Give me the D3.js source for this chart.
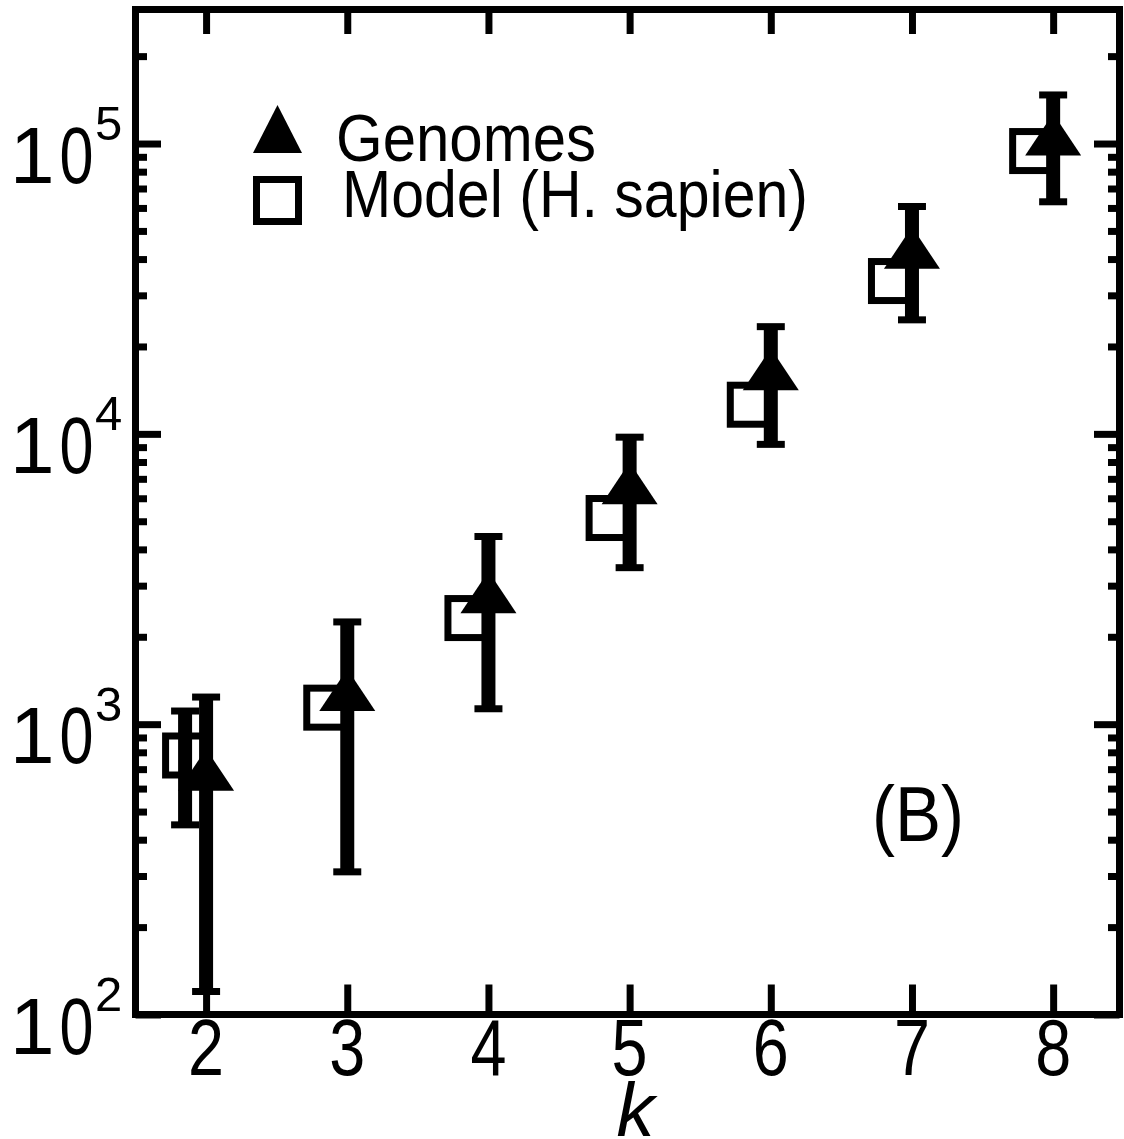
<!DOCTYPE html>
<html>
<head>
<meta charset="utf-8">
<script src="https://cdn.jsdelivr.net/npm/d3@7"></script>
<style>
  html, body { margin: 0; padding: 0; background: #fff; }
  svg { display: block; }
  text { font-family: "Liberation Sans", Arial, sans-serif; fill: #000; }
</style>
</head>
<body>
<script>
// ---- data ----
const kValues = [2, 3, 4, 5, 6, 7, 8];
const genomeValues = [680, 1280, 2780, 6600, 16300, 42700, 105000];
const genomeErrors = [560, 970, 1650, 3140, 7100, 18000, 42000];
const modelValues = [780, 1140, 2320, 5130, 12600, 33600, 94200];
const modelErrors = [330, 0, 0, 0, 0, 0, 0];
const yTickExponents = [2, 3, 4, 5];
const xTickLabels = ["2", "3", "4", "5", "6", "7", "8"];
const legendLabels = ["Genomes", "Model (H. sapien)"];
const panelLabel = "(B)";
const xAxisLabel = "k";

// ---- layout ----
const W = 1124, H = 1139;
const L = 135.5, R = 1119.5, T = 9.5, B = 1014.5;
const SW = 7;

const svg = d3.select("body").append("svg").attr("width", W).attr("height", H);

const x = d3.scaleLinear().domain([1.5, 8.47]).range([L, R]);
const y = d3.scaleLog().domain([100, 2.895e5]).range([B, T]);

const majors = yTickExponents.map(e => Math.pow(10, e));
const minors = [];
yTickExponents.forEach(e => {
  for (let m = 2; m <= 9; m++) {
    const v = m * Math.pow(10, e);
    if (v <= y.domain()[1]) minors.push(v);
  }
});

function styleAxis(g) {
  g.select(".domain").remove();
  g.selectAll(".tick line").attr("stroke", "#000").attr("stroke-width", SW);
  g.selectAll(".tick text").remove();
}

// y axes (left & right), ticks pointing inward
svg.append("g").attr("transform", `translate(${L},0)`)
  .call(d3.axisLeft(y).tickValues(majors).tickSize(-25.5).tickFormat(""))
  .call(styleAxis);
svg.append("g").attr("transform", `translate(${L},0)`)
  .call(d3.axisLeft(y).tickValues(minors).tickSize(-11.5).tickFormat(""))
  .call(styleAxis);
svg.append("g").attr("transform", `translate(${R},0)`)
  .call(d3.axisRight(y).tickValues(majors).tickSize(-25.5).tickFormat(""))
  .call(styleAxis);
svg.append("g").attr("transform", `translate(${R},0)`)
  .call(d3.axisRight(y).tickValues(minors).tickSize(-11.5).tickFormat(""))
  .call(styleAxis);

// x axes (top & bottom), ticks inward
svg.append("g").attr("transform", `translate(0,${T})`)
  .call(d3.axisTop(x).tickValues(kValues).tickSize(-24.5).tickFormat(""))
  .call(styleAxis);
svg.append("g").attr("transform", `translate(0,${B})`)
  .call(d3.axisBottom(x).tickValues(kValues).tickSize(-30).tickFormat(""))
  .call(styleAxis);

// frame
svg.append("rect")
  .attr("x", L).attr("y", T).attr("width", R - L).attr("height", B - T)
  .attr("fill", "none").attr("stroke", "#000").attr("stroke-width", SW);

// y tick labels 10^n
const yl = svg.append("g");
yTickExponents.forEach(e => {
  const ty = y(Math.pow(10, e));
  yl.append("text")
    .attr("x", 10).attr("y", ty + 39)
    .attr("font-size", 80)
    .text("1");
  yl.append("text")
    .attr("x", 59.5).attr("y", ty + 39)
    .attr("font-size", 80)
    .attr("textLength", 34).attr("lengthAdjust", "spacingAndGlyphs")
    .text("0");
  yl.append("text")
    .attr("x", 95).attr("y", ty - 3.5)
    .attr("font-size", 49)
    .text(String(e));
});

// x tick labels
svg.append("g").selectAll("text").data(kValues).join("text")
  .attr("x", d => x(d) - 18).attr("y", 1075)
  .attr("font-size", 80)
  .attr("textLength", 36).attr("lengthAdjust", "spacingAndGlyphs")
  .text((d, i) => xTickLabels[i]);

// x axis label
svg.append("text")
  .attr("x", x(5) + 6).attr("y", 1136)
  .attr("text-anchor", "middle")
  .attr("font-size", 76).attr("font-style", "italic")
  .text(xAxisLabel);

// ---- data marks ----
const dodge = -21;
const capHalf = 14;
const data = kValues.map((k, i) => ({
  k, g: genomeValues[i], ge: genomeErrors[i], m: modelValues[i], me: modelErrors[i]
}));

// model squares
const sq = 39;
svg.append("g").selectAll("rect").data(data).join("rect")
  .attr("x", d => x(d.k) + dodge - sq / 2)
  .attr("y", d => y(d.m) - sq / 2)
  .attr("width", sq).attr("height", sq)
  .attr("fill", "none").attr("stroke", "#000").attr("stroke-width", SW);

function errorBars(sel, cx, v, e) {
  const items = sel.selectAll("g").data(data.filter(d => e(d) > 0)).join("g");
  items.append("line")
    .attr("x1", cx).attr("x2", cx)
    .attr("y1", d => y(v(d) + e(d))).attr("y2", d => y(v(d) - e(d)))
    .attr("stroke", "#000").attr("stroke-width", 14);
  items.append("line")
    .attr("x1", d => cx(d) - capHalf).attr("x2", d => cx(d) + capHalf)
    .attr("y1", d => y(v(d) + e(d))).attr("y2", d => y(v(d) + e(d)))
    .attr("stroke", "#000").attr("stroke-width", SW);
  items.append("line")
    .attr("x1", d => cx(d) - capHalf).attr("x2", d => cx(d) + capHalf)
    .attr("y1", d => y(v(d) - e(d))).attr("y2", d => y(v(d) - e(d)))
    .attr("stroke", "#000").attr("stroke-width", SW);
}

errorBars(svg.append("g"), d => x(d.k) + dodge, d => d.m, d => d.me);
errorBars(svg.append("g"), d => x(d.k), d => d.g, d => d.ge);

// genome triangles
function tri(cx, cy) {
  return `M${cx},${cy - 24}L${cx - 28},${cy + 18}L${cx + 28},${cy + 18}Z`;
}
svg.append("g").selectAll("path").data(data).join("path")
  .attr("d", d => tri(x(d.k), y(d.g)))
  .attr("fill", "#000");

// ---- legend ----
const lg = svg.append("g");
lg.append("path")
  .attr("d", "M277.5,105L253,153L302,153Z")
  .attr("fill", "#000");
lg.append("rect")
  .attr("x", 256.5).attr("y", 179.5).attr("width", 42).attr("height", 42)
  .attr("fill", "none").attr("stroke", "#000").attr("stroke-width", SW);
lg.append("text")
  .attr("x", 336).attr("y", 161)
  .attr("font-size", 67)
  .attr("textLength", 260).attr("lengthAdjust", "spacingAndGlyphs")
  .text(legendLabels[0]);
lg.append("text")
  .attr("x", 342).attr("y", 217)
  .attr("font-size", 67)
  .attr("textLength", 466).attr("lengthAdjust", "spacingAndGlyphs")
  .text(legendLabels[1]);

// panel label
svg.append("text")
  .attr("x", 872).attr("y", 841)
  .attr("font-size", 78)
  .attr("textLength", 92).attr("lengthAdjust", "spacingAndGlyphs")
  .text(panelLabel);
</script>
</body>
</html>
